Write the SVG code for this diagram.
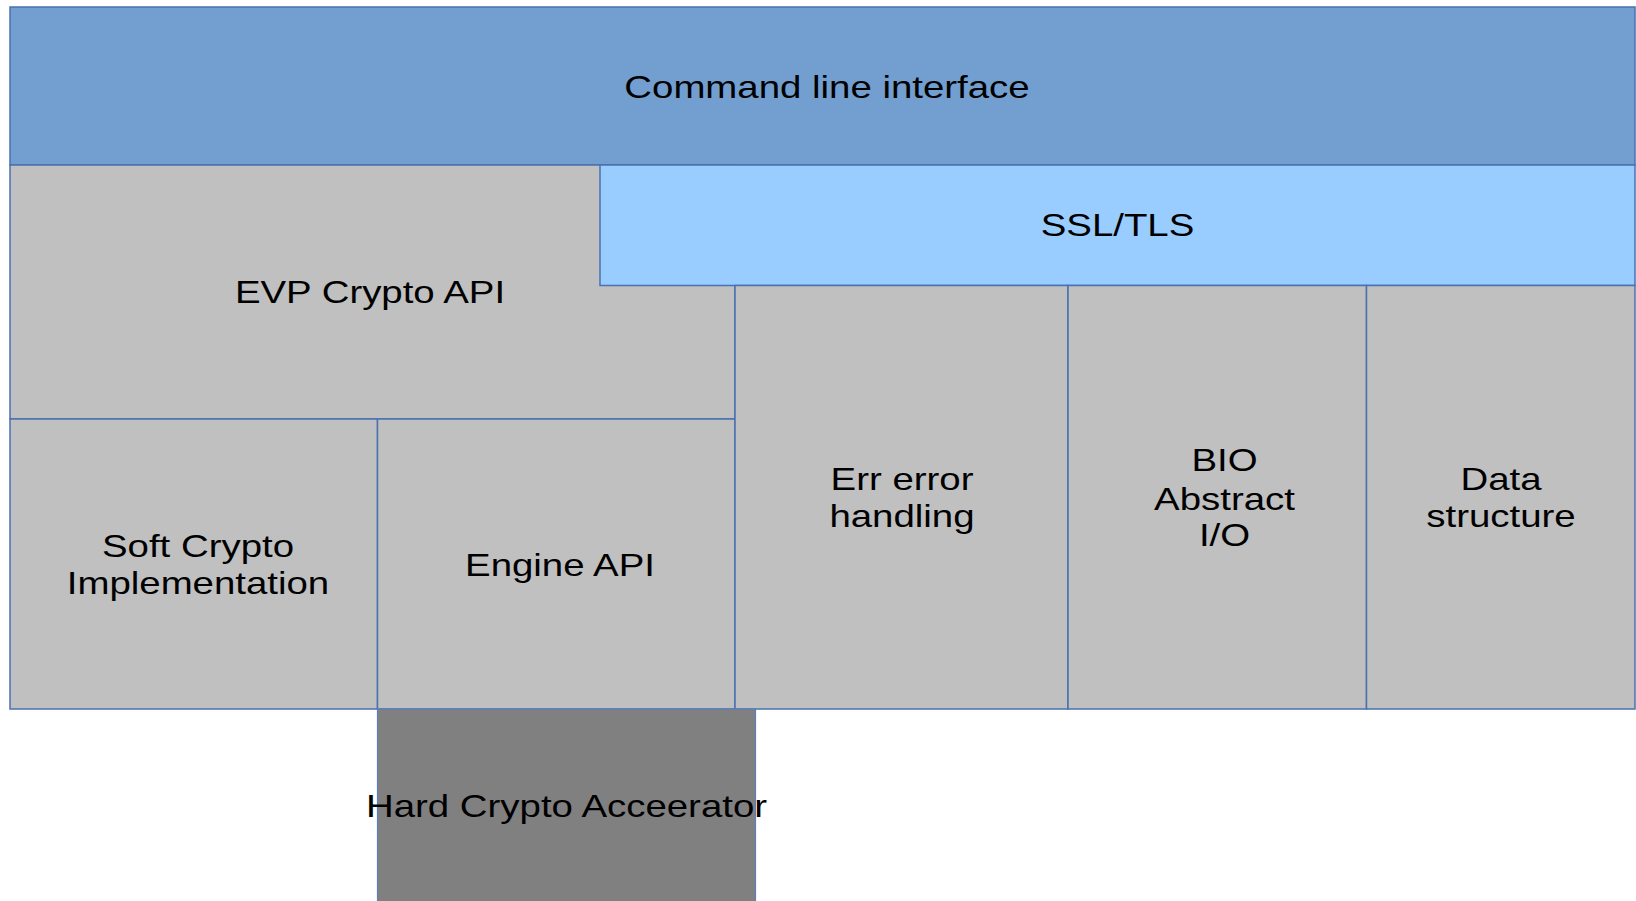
<svg xmlns="http://www.w3.org/2000/svg" width="1636" height="901" viewBox="0 0 1636 901">
  <style>
    .box { stroke: #4a72b0; stroke-width: 1.5; }
    .cli { fill: #729fcf; }
    .ssl { fill: #99ccff; }
    .grey { fill: #c0c0c0; }
    .dark { fill: #808080; stroke: #5b7fbf; stroke-width: 1.2; }
    .lbl { font-family: "Liberation Sans", Arial, sans-serif; font-size: 32px; fill: #000; text-anchor: middle; }
  </style>
  <rect width="1636" height="901" fill="#ffffff"/>

  <g id="cli">
    <rect class="box cli" x="10" y="7" width="1625" height="158"/>
    <text class="lbl" transform="translate(827,97.5) scale(1.2,1)">Command line interface</text>
  </g>

  <g id="evp">
    <rect class="box grey" x="10" y="165" width="725" height="254"/>
    <text class="lbl" transform="translate(370,302.5) scale(1.2,1)">EVP Crypto API</text>
  </g>

  <g id="ssl">
    <rect class="box ssl" x="600" y="165" width="1035" height="120.5"/>
    <text class="lbl" transform="translate(1117.5,236) scale(1.2,1)">SSL/TLS</text>
  </g>

  <g id="soft">
    <rect class="box grey" x="10" y="419" width="367.5" height="290"/>
    <text class="lbl" transform="translate(198,556.5) scale(1.2,1)">Soft Crypto</text>
    <text class="lbl" transform="translate(198,593.5) scale(1.2,1)">Implementation</text>
  </g>

  <g id="engine">
    <rect class="box grey" x="377.5" y="419" width="357.5" height="290"/>
    <text class="lbl" transform="translate(560,576) scale(1.2,1)">Engine API</text>
  </g>

  <g id="err">
    <rect class="box grey" x="735" y="285.5" width="333" height="423.5"/>
    <text class="lbl" transform="translate(902,489.5) scale(1.2,1)">Err error</text>
    <text class="lbl" transform="translate(902,527) scale(1.2,1)">handling</text>
  </g>

  <g id="bio">
    <rect class="box grey" x="1068" y="285.5" width="298.5" height="423.5"/>
    <text class="lbl" transform="translate(1224.5,471) scale(1.2,1)">BIO</text>
    <text class="lbl" transform="translate(1224.5,509.5) scale(1.2,1)">Abstract</text>
    <text class="lbl" transform="translate(1224.5,546) scale(1.2,1)">I/O</text>
  </g>

  <g id="data">
    <rect class="box grey" x="1366.5" y="285.5" width="268.5" height="423.5"/>
    <text class="lbl" transform="translate(1501,489.5) scale(1.2,1)">Data</text>
    <text class="lbl" transform="translate(1501,527) scale(1.2,1)">structure</text>
  </g>

  <g id="hard">
    <rect class="dark" x="377.5" y="709" width="378" height="200"/>
    <text class="lbl" transform="translate(566.5,816.5) scale(1.2,1)">Hard Crypto Acceerator</text>
  </g>

  <g id="connectors"></g>
</svg>
